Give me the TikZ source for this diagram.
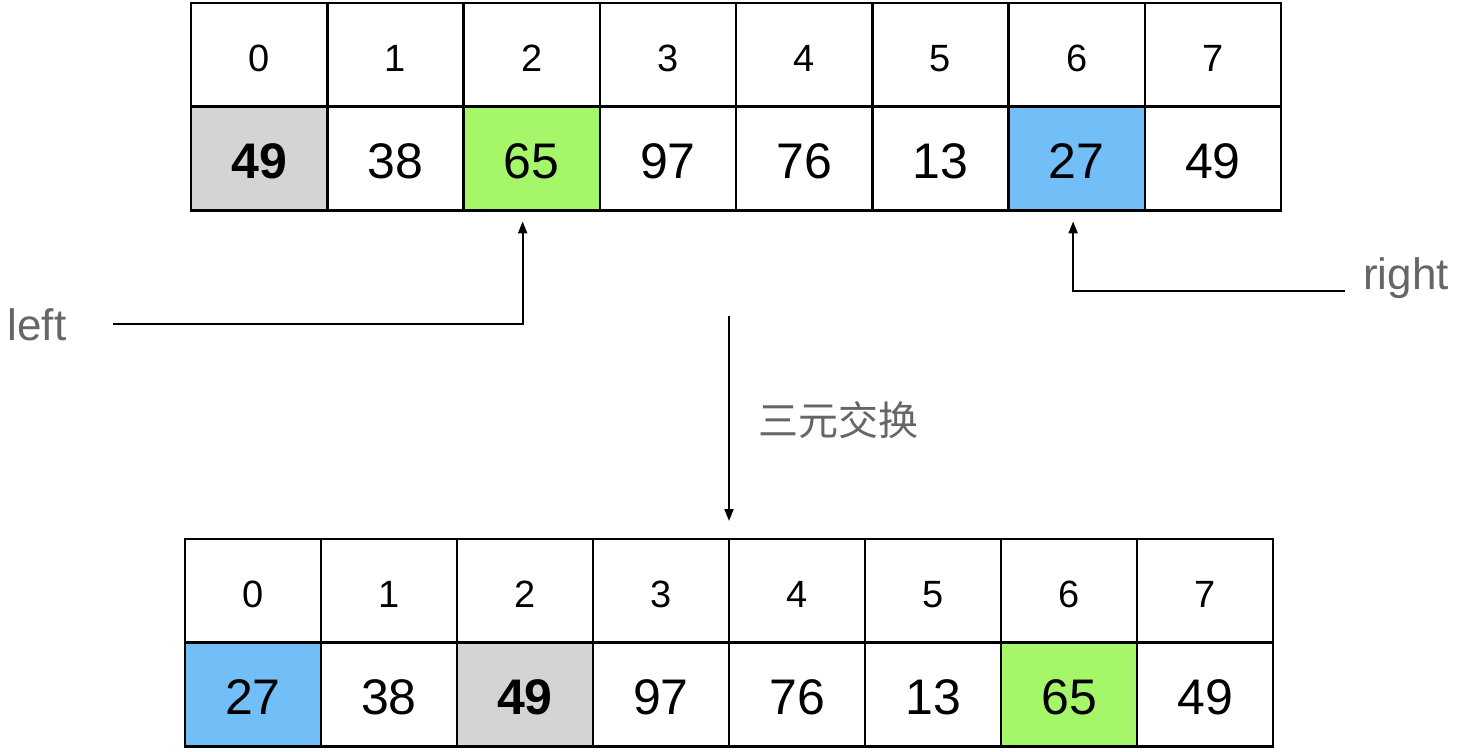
\documentclass[tikz,border=0pt]{standalone}
\usepackage{fontspec}
\setmainfont{Liberation Sans}
\newfontfamily\cjk{Noto Sans CJK SC}
\usetikzlibrary{arrows.meta}
\definecolor{cgray}{HTML}{D4D4D4}
\definecolor{cgreen}{HTML}{A6F66A}
\definecolor{cblue}{HTML}{72BFF8}
\definecolor{labelgray}{HTML}{666666}
\begin{document}
\begin{tikzpicture}[x=1pt,y=-1pt,
  cellbase/.style={draw, line width=2.5pt, inner sep=0pt, outer sep=0pt, anchor=north west},
  topcell/.style={cellbase, minimum width=136.25pt, minimum height=103.7pt},
  botcell/.style={cellbase, minimum width=136pt, minimum height=103.7pt},
  idxfont/.style={font=\fontsize{38}{40}\selectfont, text height=33pt, text depth=0pt},
  valfont/.style={font=\fontsize{50}{54}\selectfont, text height=40pt, text depth=0pt},
  lbl/.style={text=labelgray, inner sep=0pt, font=\fontsize{44}{48}\selectfont},
  conn/.style={line width=2pt, -{Triangle[length=12pt,width=9pt]}}
]
\useasboundingbox (0,0) rectangle (1460,752);
\fill[white] (0,0) rectangle (1460,752);
% top table
\foreach \i/\v/\c/\b in {0/49/cgray/1,1/38/white/0,2/65/cgreen/0,3/97/white/0,4/76/white/0,5/13/white/0,6/27/cblue/0,7/49/white/0}{
  \node[topcell, idxfont] (ti\i) at ({191+\i*136.25},3) {\i};
  \ifnum\b=1
    \node[topcell, valfont, fill=\c] (tv\i) at ({191+\i*136.25},106.7) {\textbf{\v}};
  \else
    \node[topcell, valfont, fill=\c] (tv\i) at ({191+\i*136.25},106.7) {\v};
  \fi
}
% bottom table
\foreach \i/\v/\c/\b in {0/27/cblue/0,1/38/white/0,2/49/cgray/1,3/97/white/0,4/76/white/0,5/13/white/0,6/65/cgreen/0,7/49/white/0}{
  \node[botcell, idxfont] (bi\i) at ({185+\i*136},539) {\i};
  \ifnum\b=1
    \node[botcell, valfont, fill=\c] (bv\i) at ({185+\i*136},642.7) {\textbf{\v}};
  \else
    \node[botcell, valfont, fill=\c] (bv\i) at ({185+\i*136},642.7) {\v};
  \fi
}
% labels
\node[lbl] (left) at (37,325) {left};
\node[lbl] (right) at (1406,278) {right};
\node[text=labelgray, inner sep=0pt, font=\cjk\fontsize{40}{44}\selectfont, anchor=west] (swap) at (758,420) {三元交换};
% connectors
\coordinate (lstart) at (113,324);
\coordinate (rstart) at (1345,291);
\coordinate (mstart) at (729,316);
\draw[conn, shorten >=11pt] (lstart) -| ([xshift=-9pt]tv2.south);
\draw[conn, shorten >=11pt] (rstart) -| ([xshift=-3.5pt]tv6.south);
\draw[conn, shorten >=18pt] (mstart) -- (bi4.north west);
\end{tikzpicture}
\end{document}
